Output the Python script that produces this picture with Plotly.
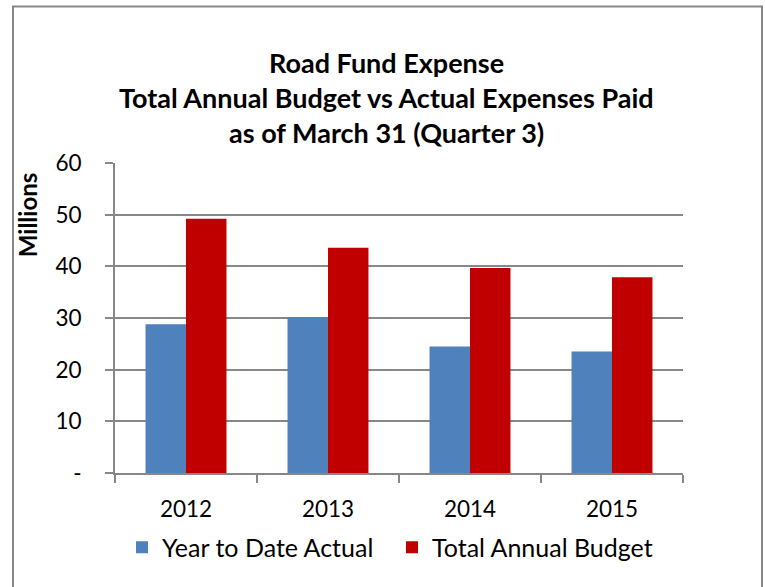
import plotly.graph_objects as go

# Values (millions)
years = ["2012", "2013", "2014", "2015"]
ytd_actual = [28.8, 30.2, 24.5, 23.5]
annual_budget = [49.2, 43.6, 39.7, 37.9]
y_ticks = [0, 10, 20, 30, 40, 50, 60]
y_tick_text = ["-", "10", "20", "30", "40", "50", "60"]
title_lines = [
    "Road Fund Expense",
    "Total Annual Budget vs Actual Expenses Paid",
    "as of March 31 (Quarter 3)",
]

FONT = "Lato, 'Open Sans', sans-serif"
GRID = "#878787"
BLUE = "#4F81BD"
RED = "#C00000"

# Plot area in pixels (used to place the annotations and frame)
W, H = 765, 587
L, R, T, B = 115, 683, 162.7, 473.3


def px_x(x):
    return (x - L) / (R - L)


def px_y(y):
    return (B - y) / (B - T)


fig = go.Figure()
fig.add_trace(
    go.Bar(x=years, y=ytd_actual, name="Year to Date Actual",
           marker=dict(color=BLUE, line=dict(width=0)), showlegend=False)
)
fig.add_trace(
    go.Bar(x=years, y=annual_budget, name="Total Annual Budget",
           marker=dict(color=RED, line=dict(width=0)), showlegend=False)
)

# legend entries with bigger square swatches (Excel style)
for name, color in [("Year to Date Actual", BLUE), ("Total Annual Budget", RED)]:
    fig.add_trace(
        go.Scatter(x=[None], y=[None], mode="markers", name=name,
                   marker=dict(symbol="square", size=15, color=color))
    )

# Title, one annotation per line to keep Excel-like spacing
for line, yc in zip(title_lines, [62, 97, 132]):
    fig.add_annotation(
        text=f"<b>{line}</b>", xref="paper", yref="paper",
        x=px_x(386), y=px_y(yc), xanchor="center", yanchor="middle",
        showarrow=False, font=dict(family=FONT, size=27, color="black"),
    )

fig.add_annotation(
    text="<b>Millions</b>", xref="paper", yref="paper",
    x=px_x(27), y=px_y(215), xanchor="center", yanchor="middle",
    textangle=-90, showarrow=False,
    font=dict(family=FONT, size=24, color="black"),
)

# Outer chart frame
fig.add_shape(
    type="rect", xref="paper", yref="paper",
    x0=px_x(13), x1=px_x(762), y0=px_y(620), y1=px_y(6),
    line=dict(color=GRID, width=2), layer="below",
)

fig.update_xaxes(
    type="category",
    showline=True, linecolor=GRID, linewidth=2,
    ticks="outside", tickson="boundaries", ticklen=8, tickcolor=GRID, tickwidth=2,
    ticklabelstandoff=15,
    tickfont=dict(family=FONT, size=22.5, color="black"),
    showgrid=False,
)
fig.update_yaxes(
    range=[0, 60], tickvals=y_ticks, ticktext=y_tick_text,
    showline=True, linecolor=GRID, linewidth=2,
    ticks="outside", ticklen=8, tickcolor=GRID, tickwidth=2,
    ticklabelstandoff=19,
    showgrid=True, gridcolor=GRID, gridwidth=2,
    zeroline=False,
    tickfont=dict(family=FONT, size=22.5, color="black"),
)

fig.update_layout(
    width=W, height=H,
    margin=dict(l=L, r=W - R, t=T, b=H - B, pad=0),
    paper_bgcolor="white", plot_bgcolor="white",
    barmode="group", bargap=0.43, bargroupgap=0,
    showlegend=True,
    legend=dict(
        orientation="h", x=px_x(122), y=px_y(548),
        xanchor="left", yanchor="middle",
        font=dict(family=FONT, size=25, color="black"),
        itemsizing="constant", traceorder="normal",
        itemwidth=30, entrywidth=225, entrywidthmode="pixels",
    ),
)

fig.write_html("out.html", config={"displayModeBar": False},
               post_script="document.body.style.margin='0';")
